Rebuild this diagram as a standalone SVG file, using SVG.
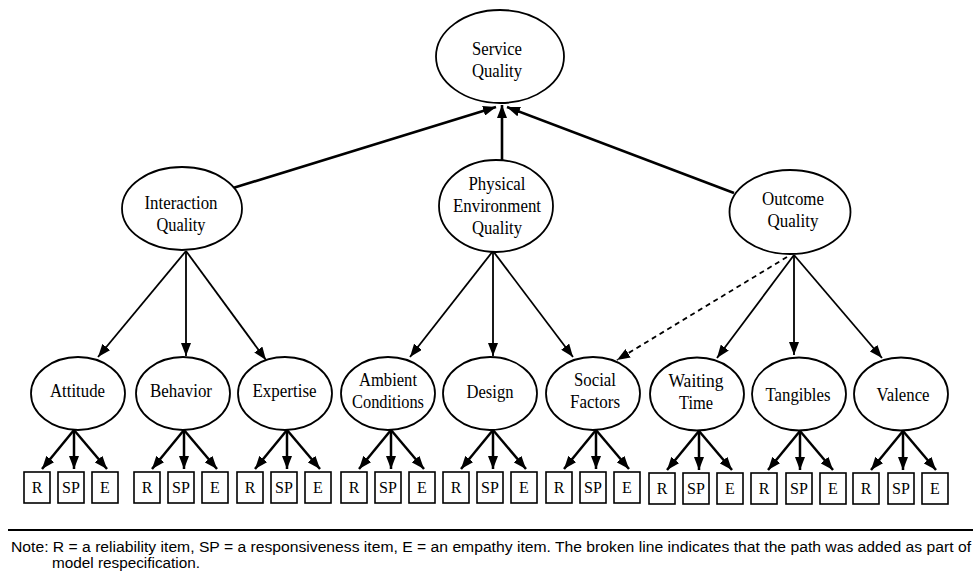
<svg xmlns="http://www.w3.org/2000/svg" width="973" height="576" viewBox="0 0 973 576">
<style>
.n{fill:#fff;stroke:#000;stroke-width:1.8}
.b{fill:#fff;stroke:#000;stroke-width:1.6}
.t{font-family:"Liberation Serif","Times New Roman",serif;font-size:19.5px;text-anchor:middle;fill:#000}
.bt{font-family:"Liberation Serif","Times New Roman",serif;font-size:16px;text-anchor:middle;fill:#000}
.top{stroke:#000;stroke-width:2.6;fill:none}
.mid{stroke:#000;stroke-width:1.8;fill:none}
.low{stroke:#000;stroke-width:2.5;fill:none}
.note{font-family:"Liberation Sans",Arial,sans-serif;font-size:13.8px;fill:#000}
</style>
<defs>
<marker id="ah" viewBox="0 0 13 10" refX="13" refY="5" markerWidth="13" markerHeight="10" markerUnits="userSpaceOnUse" orient="auto"><path d="M0,0 L13,5 L0,10 z" fill="#000"/></marker>
</defs>
<rect width="973" height="576" fill="#fff"/>
<g id="connectors">
<line class="top" x1="233" y1="188" x2="496" y2="107" marker-end="url(#ah)"/>
<line class="top" x1="502" y1="160" x2="502" y2="105" marker-end="url(#ah)"/>
<line class="top" x1="734" y1="193" x2="507" y2="107" marker-end="url(#ah)"/>
<line class="mid" x1="186" y1="251" x2="98" y2="357" marker-end="url(#ah)"/>
<line class="mid" x1="186" y1="251" x2="186" y2="356" marker-end="url(#ah)"/>
<line class="mid" x1="186" y1="251" x2="266" y2="360" marker-end="url(#ah)"/>
<line class="mid" x1="493" y1="251" x2="410" y2="357" marker-end="url(#ah)"/>
<line class="mid" x1="493" y1="251" x2="493" y2="356" marker-end="url(#ah)"/>
<line class="mid" x1="493" y1="251" x2="573" y2="357" marker-end="url(#ah)"/>
<line class="mid" x1="787" y1="257" x2="617" y2="360" stroke-dasharray="5,4" marker-end="url(#ah)"/>
<line class="mid" x1="794" y1="255" x2="717" y2="358" marker-end="url(#ah)"/>
<line class="mid" x1="794" y1="255" x2="794" y2="355" marker-end="url(#ah)"/>
<line class="mid" x1="794" y1="255" x2="882" y2="358" marker-end="url(#ah)"/>
<line class="low" x1="74" y1="430" x2="42" y2="469" marker-end="url(#ah)"/>
<line class="low" x1="74" y1="430" x2="74" y2="469" marker-end="url(#ah)"/>
<line class="low" x1="74" y1="430" x2="107" y2="469" marker-end="url(#ah)"/>
<line class="low" x1="184" y1="430" x2="152" y2="469" marker-end="url(#ah)"/>
<line class="low" x1="184" y1="430" x2="184" y2="469" marker-end="url(#ah)"/>
<line class="low" x1="184" y1="430" x2="217" y2="469" marker-end="url(#ah)"/>
<line class="low" x1="287" y1="430" x2="255" y2="469" marker-end="url(#ah)"/>
<line class="low" x1="287" y1="430" x2="287" y2="469" marker-end="url(#ah)"/>
<line class="low" x1="287" y1="430" x2="320" y2="469" marker-end="url(#ah)"/>
<line class="low" x1="391" y1="430" x2="359" y2="469" marker-end="url(#ah)"/>
<line class="low" x1="391" y1="430" x2="391" y2="469" marker-end="url(#ah)"/>
<line class="low" x1="391" y1="430" x2="424" y2="469" marker-end="url(#ah)"/>
<line class="low" x1="493" y1="430" x2="461" y2="469" marker-end="url(#ah)"/>
<line class="low" x1="493" y1="430" x2="493" y2="469" marker-end="url(#ah)"/>
<line class="low" x1="493" y1="430" x2="526" y2="469" marker-end="url(#ah)"/>
<line class="low" x1="596" y1="430" x2="564" y2="469" marker-end="url(#ah)"/>
<line class="low" x1="596" y1="430" x2="596" y2="469" marker-end="url(#ah)"/>
<line class="low" x1="596" y1="430" x2="629" y2="469" marker-end="url(#ah)"/>
<line class="low" x1="699" y1="431" x2="667" y2="470" marker-end="url(#ah)"/>
<line class="low" x1="699" y1="431" x2="699" y2="470" marker-end="url(#ah)"/>
<line class="low" x1="699" y1="431" x2="732" y2="470" marker-end="url(#ah)"/>
<line class="low" x1="800" y1="431" x2="768" y2="470" marker-end="url(#ah)"/>
<line class="low" x1="800" y1="431" x2="800" y2="470" marker-end="url(#ah)"/>
<line class="low" x1="800" y1="431" x2="833" y2="470" marker-end="url(#ah)"/>
<line class="low" x1="903" y1="431" x2="871" y2="470" marker-end="url(#ah)"/>
<line class="low" x1="903" y1="431" x2="903" y2="470" marker-end="url(#ah)"/>
<line class="low" x1="903" y1="431" x2="936" y2="470" marker-end="url(#ah)"/>
</g>
<g id="service-quality"><ellipse class="n" cx="500" cy="56.5" rx="64" ry="46.5"/><text class="t" x="497" y="54.5" textLength="50" lengthAdjust="spacingAndGlyphs">Service</text><text class="t" x="497" y="76.5" textLength="50" lengthAdjust="spacingAndGlyphs">Quality</text></g>
<g id="interaction-quality"><ellipse class="n" cx="182" cy="208.5" rx="60" ry="41.5"/><text class="t" x="181" y="208.5" textLength="73" lengthAdjust="spacingAndGlyphs">Interaction</text><text class="t" x="181" y="230.5" textLength="49" lengthAdjust="spacingAndGlyphs">Quality</text></g>
<g id="physical-environment-quality"><ellipse class="n" cx="496" cy="206" rx="57" ry="46"/><text class="t" x="497" y="190" textLength="57" lengthAdjust="spacingAndGlyphs">Physical</text><text class="t" x="497" y="212" textLength="88" lengthAdjust="spacingAndGlyphs">Environment</text><text class="t" x="497" y="234" textLength="50" lengthAdjust="spacingAndGlyphs">Quality</text></g>
<g id="outcome-quality"><ellipse class="n" cx="790" cy="212" rx="60.5" ry="42"/><text class="t" x="793" y="204.5" textLength="62" lengthAdjust="spacingAndGlyphs">Outcome</text><text class="t" x="793" y="226.5" textLength="51" lengthAdjust="spacingAndGlyphs">Quality</text></g>
<g id="attitude"><ellipse class="n" cx="78" cy="393.5" rx="47" ry="36.5"/><text class="t" x="77.5" y="397" textLength="55" lengthAdjust="spacingAndGlyphs">Attitude</text></g>
<g id="behavior"><ellipse class="n" cx="183" cy="393.5" rx="47" ry="36.5"/><text class="t" x="181" y="397" textLength="62" lengthAdjust="spacingAndGlyphs">Behavior</text></g>
<g id="expertise"><ellipse class="n" cx="285" cy="393.5" rx="47" ry="36.5"/><text class="t" x="284.5" y="397" textLength="64" lengthAdjust="spacingAndGlyphs">Expertise</text></g>
<g id="ambient-conditions"><ellipse class="n" cx="388" cy="393.5" rx="47" ry="36.5"/><text class="t" x="388" y="385.5" textLength="58" lengthAdjust="spacingAndGlyphs">Ambient</text><text class="t" x="388" y="407.5" textLength="72" lengthAdjust="spacingAndGlyphs">Conditions</text></g>
<g id="design"><ellipse class="n" cx="490" cy="393.5" rx="47" ry="36.5"/><text class="t" x="490" y="398" textLength="47" lengthAdjust="spacingAndGlyphs">Design</text></g>
<g id="social-factors"><ellipse class="n" cx="593" cy="393.5" rx="47" ry="36.5"/><text class="t" x="595" y="385.5" textLength="42" lengthAdjust="spacingAndGlyphs">Social</text><text class="t" x="595" y="407.5" textLength="50" lengthAdjust="spacingAndGlyphs">Factors</text></g>
<g id="waiting-time"><ellipse class="n" cx="697" cy="394" rx="47" ry="36.5"/><text class="t" x="696" y="386.5" textLength="55" lengthAdjust="spacingAndGlyphs">Waiting</text><text class="t" x="696" y="408.5" textLength="34" lengthAdjust="spacingAndGlyphs">Time</text></g>
<g id="tangibles"><ellipse class="n" cx="799" cy="394" rx="47" ry="36.5"/><text class="t" x="798" y="401" textLength="65" lengthAdjust="spacingAndGlyphs">Tangibles</text></g>
<g id="valence"><ellipse class="n" cx="901" cy="394" rx="47" ry="36.5"/><text class="t" x="903" y="401" textLength="53" lengthAdjust="spacingAndGlyphs">Valence</text></g>
<g id="attitude-r"><rect class="b" x="24" y="472" width="26" height="31"/><text class="bt" x="37" y="493">R</text></g>
<g id="attitude-sp"><rect class="b" x="58" y="472" width="26" height="31"/><text class="bt" x="71" y="493">SP</text></g>
<g id="attitude-e"><rect class="b" x="92" y="472" width="26" height="31"/><text class="bt" x="105" y="493">E</text></g>
<g id="behavior-r"><rect class="b" x="134" y="472" width="26" height="31"/><text class="bt" x="147" y="493">R</text></g>
<g id="behavior-sp"><rect class="b" x="168" y="472" width="26" height="31"/><text class="bt" x="181" y="493">SP</text></g>
<g id="behavior-e"><rect class="b" x="202" y="472" width="26" height="31"/><text class="bt" x="215" y="493">E</text></g>
<g id="expertise-r"><rect class="b" x="237" y="472" width="26" height="31"/><text class="bt" x="250" y="493">R</text></g>
<g id="expertise-sp"><rect class="b" x="271" y="472" width="26" height="31"/><text class="bt" x="284" y="493">SP</text></g>
<g id="expertise-e"><rect class="b" x="305" y="472" width="26" height="31"/><text class="bt" x="318" y="493">E</text></g>
<g id="ambient-r"><rect class="b" x="341" y="472" width="26" height="31"/><text class="bt" x="354" y="493">R</text></g>
<g id="ambient-sp"><rect class="b" x="375" y="472" width="26" height="31"/><text class="bt" x="388" y="493">SP</text></g>
<g id="ambient-e"><rect class="b" x="409" y="472" width="26" height="31"/><text class="bt" x="422" y="493">E</text></g>
<g id="design-r"><rect class="b" x="443" y="472" width="26" height="31"/><text class="bt" x="456" y="493">R</text></g>
<g id="design-sp"><rect class="b" x="477" y="472" width="26" height="31"/><text class="bt" x="490" y="493">SP</text></g>
<g id="design-e"><rect class="b" x="511" y="472" width="26" height="31"/><text class="bt" x="524" y="493">E</text></g>
<g id="social-r"><rect class="b" x="546" y="472" width="26" height="31"/><text class="bt" x="559" y="493">R</text></g>
<g id="social-sp"><rect class="b" x="580" y="472" width="26" height="31"/><text class="bt" x="593" y="493">SP</text></g>
<g id="social-e"><rect class="b" x="614" y="472" width="26" height="31"/><text class="bt" x="627" y="493">E</text></g>
<g id="waiting-r"><rect class="b" x="649" y="473" width="26" height="31"/><text class="bt" x="662" y="494">R</text></g>
<g id="waiting-sp"><rect class="b" x="683" y="473" width="26" height="31"/><text class="bt" x="696" y="494">SP</text></g>
<g id="waiting-e"><rect class="b" x="717" y="473" width="26" height="31"/><text class="bt" x="730" y="494">E</text></g>
<g id="tangibles-r"><rect class="b" x="751" y="473" width="26" height="31"/><text class="bt" x="764" y="494">R</text></g>
<g id="tangibles-sp"><rect class="b" x="786" y="473" width="26" height="31"/><text class="bt" x="799" y="494">SP</text></g>
<g id="tangibles-e"><rect class="b" x="820" y="473" width="26" height="31"/><text class="bt" x="833" y="494">E</text></g>
<g id="valence-r"><rect class="b" x="853" y="473" width="26" height="31"/><text class="bt" x="866" y="494">R</text></g>
<g id="valence-sp"><rect class="b" x="888" y="473" width="26" height="31"/><text class="bt" x="901" y="494">SP</text></g>
<g id="valence-e"><rect class="b" x="922" y="473" width="26" height="31"/><text class="bt" x="935" y="494">E</text></g>
<line x1="8" y1="530" x2="973" y2="530" stroke="#000" stroke-width="2.2"/>
<text class="note" x="11" y="551.5" textLength="960" lengthAdjust="spacingAndGlyphs">Note: R = a reliability item, SP = a responsiveness item, E = an empathy item. The broken line indicates that the path was added as part of</text>
<text class="note" x="52" y="567.5" textLength="148" lengthAdjust="spacingAndGlyphs">model respecification.</text>
</svg>
